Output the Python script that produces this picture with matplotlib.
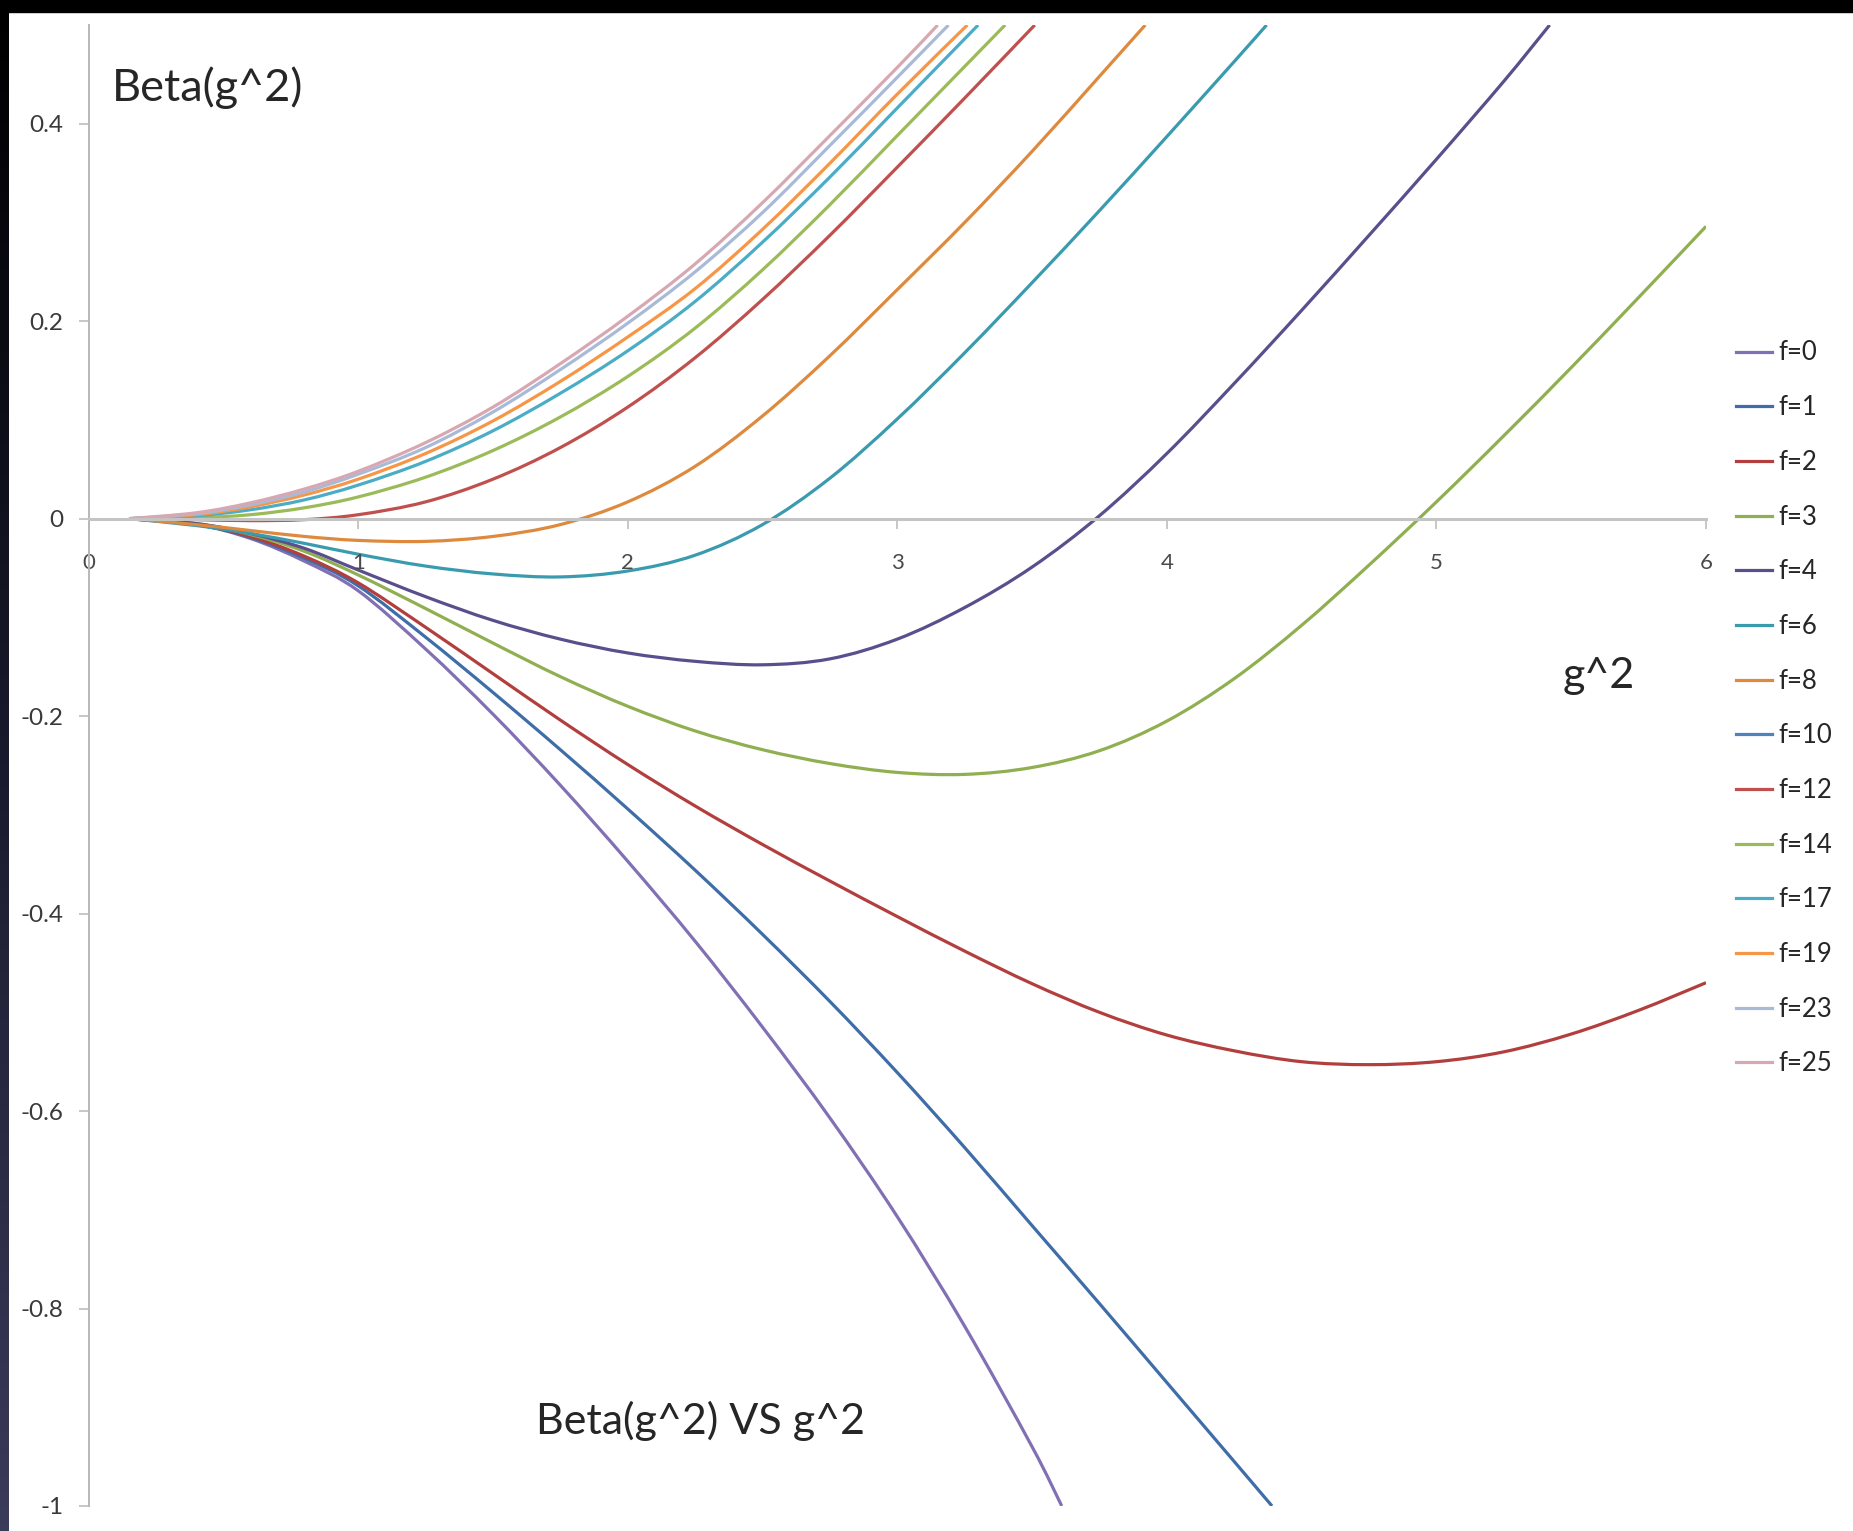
import matplotlib
matplotlib.use("Agg")
import matplotlib.pyplot as plt
import numpy as np
from matplotlib.patches import Rectangle, PathPatch
from matplotlib.path import Path
from matplotlib.lines import Line2D

plt.rcParams['font.family'] = ['Lato', 'DejaVu Sans']
plt.rcParams['axes.unicode_minus'] = False

# ---------------- data ----------------
labels = ["f=0", "f=1", "f=2", "f=3", "f=4", "f=6", "f=8", "f=10",
          "f=12", "f=14", "f=17", "f=19", "f=23", "f=25"]

g2_f0 = [0.15, 0.4, 0.6, 0.8, 1.0, 1.25, 1.5, 1.75, 2.0, 2.25, 2.5, 2.75, 3.0, 3.25, 3.5, 3.61]
beta_f0 = [0.0, -0.006, -0.02, -0.043, -0.073, -0.132, -0.198, -0.27, -0.347, -0.428, -0.515, -0.607, -0.707, -0.818, -0.94, -1.0]

g2_f1 = [0.15, 0.4, 0.6, 0.8, 1.0, 1.25, 1.5, 1.75, 2.0, 2.25, 2.5, 2.75, 3.0, 3.25, 3.5, 3.75, 4.0, 4.25, 4.39]
beta_f1 = [0.0, -0.006, -0.019, -0.04, -0.068, -0.12, -0.176, -0.234, -0.294, -0.356, -0.421, -0.489, -0.561, -0.637, -0.716, -0.795, -0.875, -0.955, -1.0]

g2_f2 = [0.15, 0.4, 0.6, 0.8, 1.0, 1.25, 1.5, 1.75, 2.0, 2.25, 2.5, 2.75, 3.0, 3.25, 3.5, 3.75, 4.0, 4.25, 4.5, 4.75, 5.0, 5.25, 5.5, 5.75, 6.0]
beta_f2 = [0.0, -0.006, -0.018, -0.038, -0.065, -0.11, -0.157, -0.204, -0.249, -0.291, -0.33, -0.367, -0.403, -0.438, -0.471, -0.5, -0.523, -0.539, -0.55, -0.553, -0.55, -0.54, -0.522, -0.498, -0.47]

g2_f3 = [0.15, 0.4, 0.6, 0.8, 1.0, 1.25, 1.5, 1.75, 2.0, 2.25, 2.5, 2.75, 3.0, 3.25, 3.5, 3.75, 4.0, 4.25, 4.5, 4.75, 5.0, 5.25, 5.5, 5.75, 6.0]
beta_f3 = [0.0, -0.005, -0.016, -0.033, -0.057, -0.091, -0.126, -0.16, -0.19, -0.215, -0.234, -0.248, -0.257, -0.259, -0.252, -0.235, -0.205, -0.162, -0.108, -0.047, 0.017, 0.084, 0.153, 0.224, 0.296]

g2_f4 = [0.15, 0.4, 0.6, 0.8, 1.0, 1.25, 1.5, 1.75, 2.0, 2.25, 2.5, 2.75, 3.0, 3.25, 3.5, 3.75, 4.0, 4.25, 4.5, 4.75, 5.0, 5.25, 5.42]
beta_f4 = [0.0, -0.005, -0.015, -0.03, -0.052, -0.079, -0.103, -0.122, -0.136, -0.1445, -0.148, -0.142, -0.122, -0.09, -0.049, 0.003, 0.066, 0.137, 0.211, 0.287, 0.364, 0.443, 0.5]

g2_f6 = [0.15, 0.4, 0.6, 0.8, 1.0, 1.25, 1.5, 1.75, 2.0, 2.25, 2.5, 2.75, 3.0, 3.25, 3.5, 3.75, 4.0, 4.25, 4.37]
beta_f6 = [0.0, -0.007, -0.015, -0.025, -0.036, -0.048, -0.056, -0.059, -0.053, -0.037, -0.006, 0.041, 0.101, 0.168, 0.239, 0.312, 0.387, 0.463, 0.5]

g2_f8 = [0.15, 0.4, 0.6, 0.8, 1.0, 1.25, 1.5, 1.75, 2.0, 2.25, 2.5, 2.75, 3.0, 3.25, 3.5, 3.75, 3.92]
beta_f8 = [0.0, -0.006, -0.012, -0.018, -0.022, -0.023, -0.018, -0.006, 0.017, 0.053, 0.104, 0.165, 0.232, 0.3, 0.372, 0.448, 0.5]

g2_f10 = []
beta_f10 = []

g2_f12 = [0.15, 0.4, 0.6, 0.8, 1.0, 1.25, 1.5, 1.75, 2.0, 2.25, 2.5, 2.75, 3.0, 3.25, 3.51]
beta_f12 = [0.0, -0.001, -0.002, -0.001, 0.004, 0.017, 0.04, 0.072, 0.113, 0.163, 0.222, 0.287, 0.356, 0.426, 0.5]

g2_f14 = [0.15, 0.4, 0.6, 0.8, 1.0, 1.25, 1.5, 1.75, 2.0, 2.25, 2.5, 2.75, 3.0, 3.25, 3.4]
beta_f14 = [0.0, 0.001, 0.004, 0.011, 0.022, 0.042, 0.069, 0.103, 0.144, 0.193, 0.252, 0.318, 0.388, 0.458, 0.5]

g2_f17 = [0.15, 0.4, 0.6, 0.8, 1.0, 1.25, 1.5, 1.75, 2.0, 2.25, 2.5, 2.75, 3.0, 3.3]
beta_f17 = [0.0, 0.003, 0.009, 0.019, 0.034, 0.058, 0.089, 0.127, 0.17, 0.22, 0.28, 0.346, 0.416, 0.5]

g2_f19 = [0.15, 0.4, 0.6, 0.8, 1.0, 1.25, 1.5, 1.75, 2.0, 2.25, 2.5, 2.75, 3.0, 3.26]
beta_f19 = [0.0, 0.004, 0.012, 0.024, 0.040, 0.066, 0.099, 0.139, 0.184, 0.233, 0.293, 0.36, 0.43, 0.5]

g2_f23 = [0.15, 0.4, 0.6, 0.8, 1.0, 1.25, 1.5, 1.75, 2.0, 2.25, 2.5, 2.75, 3.0, 3.19]
beta_f23 = [0.0, 0.005, 0.014, 0.027, 0.045, 0.072, 0.108, 0.151, 0.198, 0.25, 0.31, 0.378, 0.447, 0.5]

g2_f25 = [0.15, 0.4, 0.6, 0.8, 1.0, 1.25, 1.5, 1.75, 2.0, 2.25, 2.5, 2.75, 3.0, 3.15]
beta_f25 = [0.0, 0.006, 0.016, 0.030, 0.048, 0.077, 0.113, 0.157, 0.205, 0.258, 0.32, 0.388, 0.457, 0.5]

x_ticks = [0, 1, 2, 3, 4, 5, 6]
y_ticks = [0.4, 0.2, 0, -0.2, -0.4, -0.6, -0.8, -1]
y_tick_labels = ["0.4", "0.2", "0", "-0.2", "-0.4", "-0.6", "-0.8", "-1"]

colors = ["#8270B4", "#3F6DA8", "#B23F3D", "#8FAF50", "#5A4E8C", "#3A9BAF",
          "#DE8A3E", "#4F81BD", "#C0504D", "#9BBB59", "#4BACC6", "#F79646",
          "#A8BAD8", "#D8A8B2"]

series_x = [g2_f0, g2_f1, g2_f2, g2_f3, g2_f4, g2_f6, g2_f8, g2_f10,
            g2_f12, g2_f14, g2_f17, g2_f19, g2_f23, g2_f25]
series_y = [beta_f0, beta_f1, beta_f2, beta_f3, beta_f4, beta_f6, beta_f8, beta_f10,
            beta_f12, beta_f14, beta_f17, beta_f19, beta_f23, beta_f25]

LW = 2.3


def smooth_path(xs, ys):
    """Excel-like smoothed line: cubic Bezier segments through the points."""
    p = np.column_stack([xs, ys]).astype(float)
    n = len(p)
    verts = [p[0]]
    codes = [Path.MOVETO]
    for i in range(n - 1):
        p0 = p[i - 1] if i > 0 else p[i]
        p1 = p[i]
        p2 = p[i + 1]
        p3 = p[i + 2] if i + 2 < n else p[i + 1]
        c1 = p1 + (p2 - p0) / 6.0
        c2 = p2 - (p3 - p1) / 6.0
        verts += [c1, c2, p2]
        codes += [Path.CURVE4] * 3
    return Path(verts, codes)


# ---------------- figure ----------------
W, H = 1853, 1531
fig = plt.figure(figsize=(W / 100, H / 100), dpi=100, facecolor="white")

# screenshot borders
bg = fig.add_axes([0, 0, 1, 1], zorder=-10)
bg.set_axis_off()
bg.add_patch(Rectangle((0, 0), W, 12, color="black"))
grad = np.linspace(0, 1, 200).reshape(-1, 1)
bg.imshow(grad, extent=(0, 9, H, 0), aspect="auto",
          cmap=matplotlib.colors.LinearSegmentedColormap.from_list(
              "b", ["#000000", "#1a1a2e", "#3b3b5a"]))
bg.set_xlim(0, W)
bg.set_ylim(H, 0)

ax = fig.add_axes([88.6 / W, 25 / H, (1706 - 88.6) / W, (1506 - 28 + 3) / H])
ax.set_facecolor("none")

handles = []
for xs, ys, c, lab in zip(series_x, series_y, colors, labels):
    if len(xs) > 1:
        ax.add_patch(PathPatch(smooth_path(xs, ys), fill=False, edgecolor=c,
                               lw=LW, capstyle="butt", joinstyle="round"))
    handles.append(Line2D([], [], color=c, lw=LW, label=lab))

ax.set_xlim(0, 6)
ax.set_ylim(-1, 0.5)

for s in ["top", "right"]:
    ax.spines[s].set_visible(False)
ax.spines["bottom"].set_position(("data", 0))
ax.spines["bottom"].set_color("#C4C4C4")
ax.spines["bottom"].set_linewidth(2.2)
ax.spines["left"].set_color("#B8B8B8")
ax.spines["left"].set_linewidth(1.4)
ax.spines["left"].set_bounds(-1, 0.5)

ax.set_xticks(x_ticks)
ax.set_xticklabels([str(t) for t in x_ticks])
ax.set_yticks(y_ticks)
ax.set_yticklabels(y_tick_labels)
ax.tick_params(axis="x", direction="out", length=7, width=1.2, color="#BDBDBD",
               labelsize=16, labelcolor="#4A4A4A", pad=18)
ax.tick_params(axis="y", direction="out", length=7, width=1.2, color="#BDBDBD",
               labelsize=17.5, labelcolor="#3A3A3A", pad=11)

# texts
fig.text(112 / W, 1 - 88 / H, "Beta(g^2)", fontsize=32.5, color="#262626",
         ha="left", va="center")
fig.text(1599 / W, 1 - 676 / H, "g^2", fontsize=31, color="#262626",
         ha="center", va="center")
fig.text(700 / W, 1 - 1421 / H, "Beta(g^2) VS g^2", fontsize=31, color="#262626",
         ha="center", va="center")

# legend
fig.legend(handles=handles, labels=labels, loc="upper left",
           bbox_to_anchor=(1736 / W, 1 - 340.5 / H), frameon=False,
           fontsize=18.5, handlelength=1.4, handletextpad=0.25,
           labelspacing=1.155, borderpad=0, borderaxespad=0,
           labelcolor="#262626")

fig.savefig("out.png", dpi=100, facecolor="white")
